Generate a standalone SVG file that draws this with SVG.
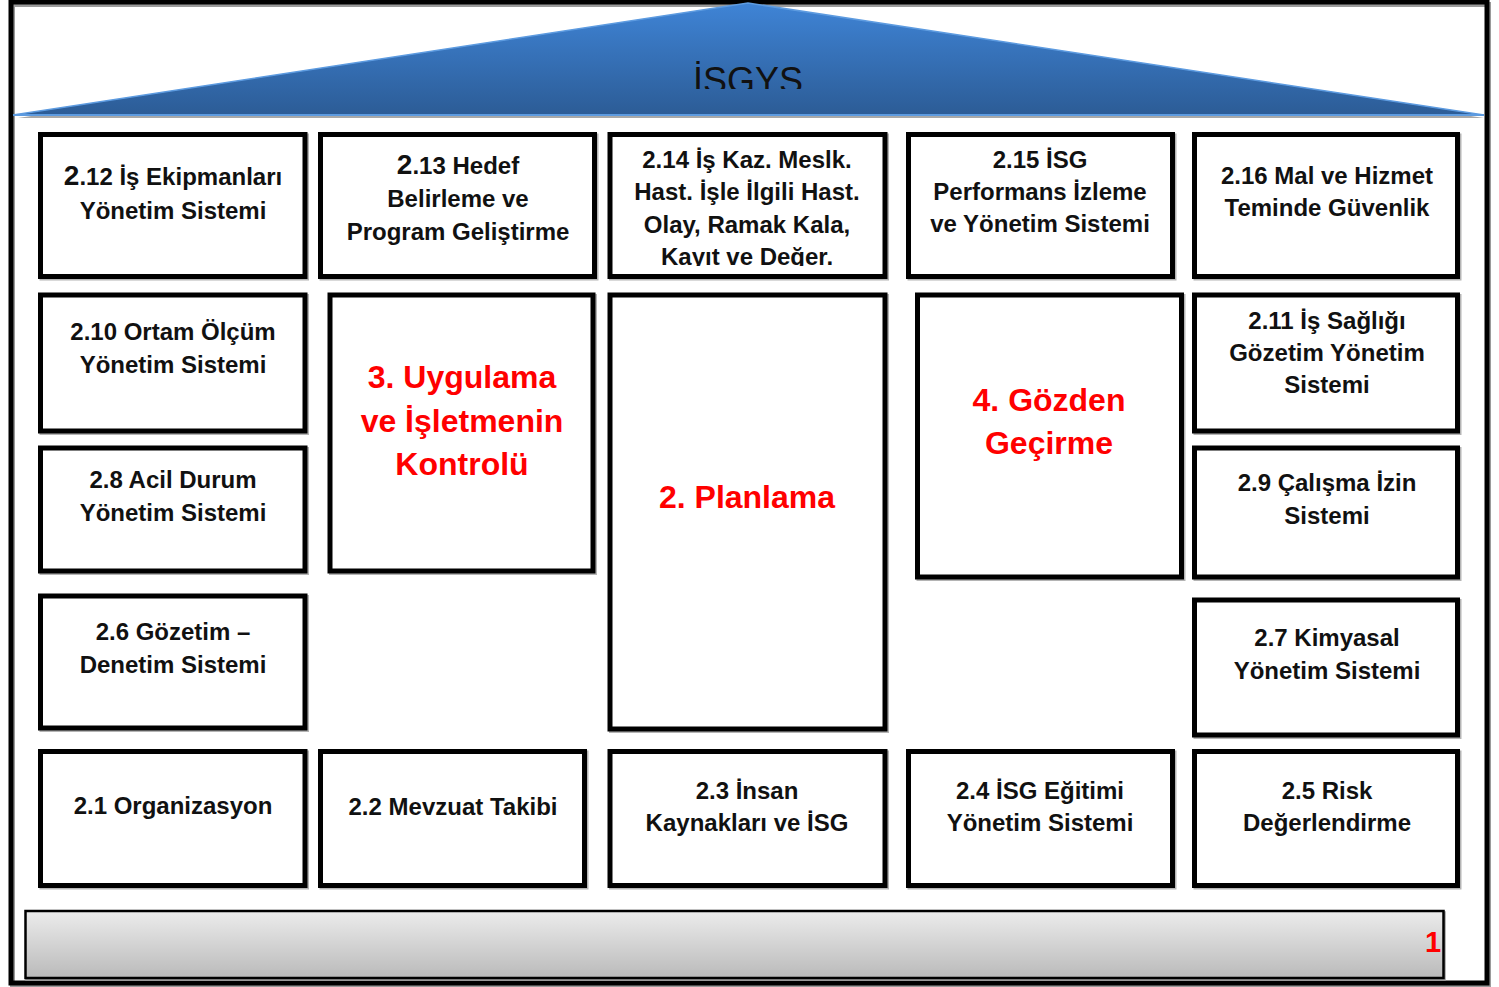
<svg xmlns="http://www.w3.org/2000/svg" width="1499" height="987" viewBox="0 0 1499 987">
  <defs>
    <linearGradient id="roofFill" x1="0" y1="0" x2="0" y2="1">
      <stop offset="0" stop-color="#3f84d6"/>
      <stop offset="1" stop-color="#2c5c96"/>
    </linearGradient>
    <linearGradient id="barFill" x1="0" y1="0" x2="0" y2="1">
      <stop offset="0" stop-color="#ececec"/>
      <stop offset="1" stop-color="#bababa"/>
    </linearGradient>
    <clipPath id="roofClip">
      <rect x="0" y="0" width="1499" height="89"/>
    </clipPath>
    <clipPath id="box214Clip">
      <rect x="612" y="138" width="270" height="128"/>
    </clipPath>
    <style>
      .box { fill: #ffffff; stroke: #000000; stroke-width: 5; }
      .shadow { fill: none; stroke: #b4b4b4; stroke-width: 5; }
      .lbl { font-family: "Liberation Sans", Arial, sans-serif; font-weight: bold; font-size: 24px; fill: #111111; text-anchor: middle; }
      .big { font-size: 28px; }
      .phase { font-family: "Liberation Sans", Arial, sans-serif; font-weight: bold; font-size: 32px; fill: #ff0000; text-anchor: middle; }
    </style>
  </defs>

  <rect x="0" y="0" width="1499" height="987" fill="#ffffff"/>

  <!-- outer frame -->
  <rect x="12.5" y="4.5" width="1476" height="981" fill="none" stroke="#9a9a9a" stroke-width="5"/>
  <rect x="11" y="2" width="1476" height="981" fill="none" stroke="#000000" stroke-width="5"/>

  <!-- roof -->
  <g id="roof">
    <polygon points="18,118 748,6 1484,118" fill="#a8a8a8"/>
    <polygon points="13,115 748,3 1484,115" fill="url(#roofFill)"/>
    <polyline points="13,115 748,3 1484,115" fill="none" stroke="#5d9be0" stroke-width="1.5"/>
    <line x1="13" y1="115" x2="1484" y2="115" stroke="#5d9be0" stroke-width="2"/>
    <text x="748" y="93" clip-path="url(#roofClip)" font-family="Liberation Sans, Arial, sans-serif" font-size="36" fill="#111111" text-anchor="middle">İSGYS</text>
  </g>

  <!-- top row -->
  <g id="n212">
    <rect class="shadow" x="42" y="136" width="264.5" height="142"/>
    <rect class="box" x="40.5" y="134.5" width="264.5" height="142"/>
    <text class="lbl" x="173" y="185"><tspan class="big">2</tspan>.12 İş Ekipmanları</text>
    <text class="lbl" x="173" y="219">Yönetim Sistemi</text>
  </g>
  <g id="n213">
    <rect class="shadow" x="322" y="136" width="274" height="142"/>
    <rect class="box" x="320.5" y="134.5" width="274" height="142"/>
    <text class="lbl" x="458" y="174"><tspan class="big">2</tspan>.13 Hedef</text>
    <text class="lbl" x="458" y="207">Belirleme ve</text>
    <text class="lbl" x="458" y="240">Program Geliştirme</text>
  </g>
  <g id="n214">
    <rect class="shadow" x="611.5" y="136" width="275" height="142"/>
    <rect class="box" x="610" y="134.5" width="275" height="142"/>
    <g clip-path="url(#box214Clip)">
      <text class="lbl" x="747" y="168">2.14 İş Kaz. Meslk.</text>
      <text class="lbl" x="747" y="200">Hast. İşle İlgili Hast.</text>
      <text class="lbl" x="747" y="233">Olay, Ramak Kala,</text>
      <text class="lbl" x="747" y="265">Kayıt ve Değer.</text>
    </g>
  </g>
  <g id="n215">
    <rect class="shadow" x="910" y="136" width="264" height="142"/>
    <rect class="box" x="908.5" y="134.5" width="264" height="142"/>
    <text class="lbl" x="1040" y="168">2.15 İSG</text>
    <text class="lbl" x="1040" y="200">Performans İzleme</text>
    <text class="lbl" x="1040" y="232">ve Yönetim Sistemi</text>
  </g>
  <g id="n216">
    <rect class="shadow" x="1196" y="136" width="263" height="142"/>
    <rect class="box" x="1194.5" y="134.5" width="263" height="142"/>
    <text class="lbl" x="1327" y="184">2.16 Mal ve Hizmet</text>
    <text class="lbl" x="1327" y="216">Teminde Güvenlik</text>
  </g>

  <!-- left column -->
  <g id="n210">
    <rect class="shadow" x="42" y="296.5" width="264.5" height="136"/>
    <rect class="box" x="40.5" y="295" width="264.5" height="136"/>
    <text class="lbl" x="173" y="340">2.10 Ortam Ölçüm</text>
    <text class="lbl" x="173" y="373">Yönetim Sistemi</text>
  </g>
  <g id="n28">
    <rect class="shadow" x="42" y="449.5" width="264.5" height="123"/>
    <rect class="box" x="40.5" y="448" width="264.5" height="123"/>
    <text class="lbl" x="173" y="488">2.8 Acil Durum</text>
    <text class="lbl" x="173" y="521">Yönetim Sistemi</text>
  </g>
  <g id="n26">
    <rect class="shadow" x="42" y="597.5" width="264.5" height="132"/>
    <rect class="box" x="40.5" y="596" width="264.5" height="132"/>
    <text class="lbl" x="173" y="640">2.6 Gözetim –</text>
    <text class="lbl" x="173" y="673">Denetim Sistemi</text>
  </g>

  <!-- phase blocks -->
  <g id="n3">
    <rect class="shadow" x="331.5" y="296.5" width="263" height="276"/>
    <rect class="box" x="330" y="295" width="263" height="276"/>
    <text class="phase" x="462" y="388">3. Uygulama</text>
    <text class="phase" x="462" y="432">ve İşletmenin</text>
    <text class="phase" x="462" y="475">Kontrolü</text>
  </g>
  <g id="n2">
    <rect class="shadow" x="611.5" y="296.5" width="275" height="434"/>
    <rect class="box" x="610" y="295" width="275" height="434"/>
    <text class="phase" x="747" y="508">2. Planlama</text>
  </g>
  <g id="n4">
    <rect class="shadow" x="919" y="296.5" width="264" height="282"/>
    <rect class="box" x="917.5" y="295" width="264" height="282"/>
    <text class="phase" x="1049" y="411">4. Gözden</text>
    <text class="phase" x="1049" y="454">Geçirme</text>
  </g>

  <!-- right column -->
  <g id="n211">
    <rect class="shadow" x="1196" y="296.5" width="263" height="136"/>
    <rect class="box" x="1194.5" y="295" width="263" height="136"/>
    <text class="lbl" x="1327" y="329">2.11 İş Sağlığı</text>
    <text class="lbl" x="1327" y="361">Gözetim Yönetim</text>
    <text class="lbl" x="1327" y="393">Sistemi</text>
  </g>
  <g id="n29">
    <rect class="shadow" x="1196" y="449.5" width="263" height="129"/>
    <rect class="box" x="1194.5" y="448" width="263" height="129"/>
    <text class="lbl" x="1327" y="491">2.9 Çalışma İzin</text>
    <text class="lbl" x="1327" y="524">Sistemi</text>
  </g>
  <g id="n27">
    <rect class="shadow" x="1196" y="601.5" width="263" height="135"/>
    <rect class="box" x="1194.5" y="600" width="263" height="135"/>
    <text class="lbl" x="1327" y="646">2.7 Kimyasal</text>
    <text class="lbl" x="1327" y="679">Yönetim Sistemi</text>
  </g>

  <!-- bottom row -->
  <g id="n21">
    <rect class="shadow" x="42" y="753" width="264.5" height="134"/>
    <rect class="box" x="40.5" y="751.5" width="264.5" height="134"/>
    <text class="lbl" x="173" y="814">2.1 Organizasyon</text>
  </g>
  <g id="n22">
    <rect class="shadow" x="322" y="753" width="264" height="134"/>
    <rect class="box" x="320.5" y="751.5" width="264" height="134"/>
    <text class="lbl" x="453" y="815">2.2 Mevzuat Takibi</text>
  </g>
  <g id="n23">
    <rect class="shadow" x="611.5" y="753" width="275" height="134"/>
    <rect class="box" x="610" y="751.5" width="275" height="134"/>
    <text class="lbl" x="747" y="799">2.3 İnsan</text>
    <text class="lbl" x="747" y="831">Kaynakları ve İSG</text>
  </g>
  <g id="n24">
    <rect class="shadow" x="910" y="753" width="264" height="134"/>
    <rect class="box" x="908.5" y="751.5" width="264" height="134"/>
    <text class="lbl" x="1040" y="799">2.4 İSG Eğitimi</text>
    <text class="lbl" x="1040" y="831">Yönetim Sistemi</text>
  </g>
  <g id="n25">
    <rect class="shadow" x="1196" y="753" width="263" height="134"/>
    <rect class="box" x="1194.5" y="751.5" width="263" height="134"/>
    <text class="lbl" x="1327" y="799">2.5 Risk</text>
    <text class="lbl" x="1327" y="831">Değerlendirme</text>
  </g>

  <!-- foundation bar -->
  <g id="base">
    <rect x="26.5" y="912.5" width="1418" height="67" fill="none" stroke="#a0a0a0" stroke-width="2.5"/>
    <rect x="25.5" y="911" width="1418" height="67" fill="url(#barFill)" stroke="#000000" stroke-width="2.5"/>
    <text x="1433" y="952" font-family="Liberation Sans, Arial, sans-serif" font-weight="bold" font-size="29" fill="#ff0000" text-anchor="middle">1</text>
  </g>

  <!-- no connectors in this diagram -->
  <g id="connectors"/>
</svg>
